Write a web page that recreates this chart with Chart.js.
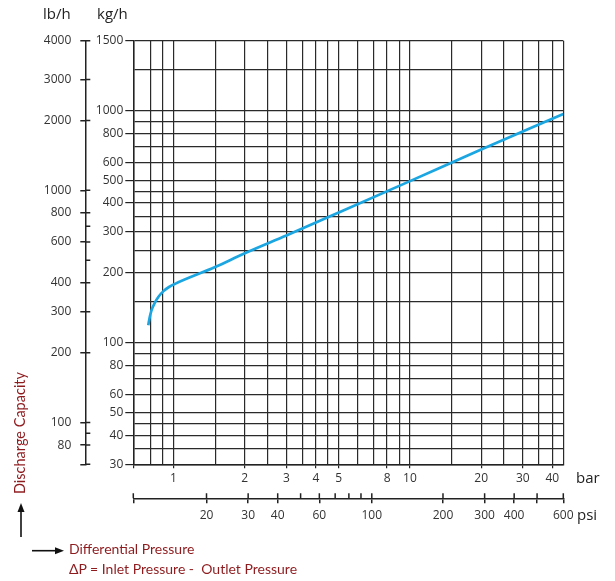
<!DOCTYPE html>
<html>
<head>
<meta charset="utf-8">
<script src="https://cdn.jsdelivr.net/npm/chart.js@4.4.0/dist/chart.umd.min.js"></script>
<style>
  body { margin: 0; background: #fff; }
  #wrap { position: relative; width: 615px; height: 581px; font-family: "Open Sans", sans-serif; color: #222; }
  #wrap canvas, #wrap svg { position: absolute; left: 0; top: 0; }
  .lbl { position: absolute; white-space: nowrap; line-height: 1; }
  .red { color: #8e1b1e; font-family: Lato, "Open Sans", sans-serif; }
</style>
</head>
<body>
<div id="wrap">
  <canvas id="chart" width="615" height="581"></canvas>
  <svg width="615" height="581">
    <line x1="21" y1="537" x2="21" y2="510" stroke="#111" stroke-width="1.6"/>
    <polygon points="21,503 17.5,512 24.5,512" fill="#111"/>
    <line x1="32" y1="550.7" x2="57" y2="550.7" stroke="#111" stroke-width="1.6"/>
    <polygon points="64,550.7 55,547.2 55,554.2" fill="#111"/>
  </svg>
  <div class="lbl" style="left:43px;top:6px;font-size:15px">lb/h</div>
  <div class="lbl" style="left:97px;top:6px;font-size:15px">kg/h</div>
  <div class="lbl" style="left:576px;top:470px;font-size:15px">bar</div>
  <div class="lbl" style="left:577px;top:507px;font-size:15px">psi</div>
  <div class="lbl red" style="left:20px;top:433px;font-size:14.5px;transform:translate(-50%,-50%) rotate(-90deg)">Discharge Capacity</div>
  <div class="lbl red" style="left:69px;top:542px;font-size:14px">Differential Pressure</div>
  <div class="lbl red" style="left:69px;top:562px;font-size:14px">ΔP = Inlet Pressure -&nbsp; Outlet Pressure</div>
</div>
<script>
// curve: differential pressure (bar) vs discharge (kg/h)
const barValues = [0.782, 0.792, 0.807, 0.831, 0.864, 0.907, 0.957, 1.015, 1.5, 2, 3, 5, 10, 20, 44.5];
const kgValues  = [119, 128, 138, 148, 158, 167, 174, 179.5, 212, 243, 290, 364, 497, 680, 967];

const barMin = 0.676, barMax = 44.5;
const kgMin = 30, kgMax = 2000;
const barGrid = [0.8, 0.9, 1, 1.5, 2, 2.5, 3, 3.5, 4, 4.5, 5, 6, 7, 8, 9, 10, 15, 20, 25, 30, 35, 40];
const barLabels = [1, 2, 3, 4, 5, 8, 10, 20, 30, 40];
const kgGrid = [30, 35, 40, 45, 50, 60, 70, 80, 90, 100, 150, 200, 250, 300, 350, 400, 450, 500, 600, 700, 800, 900, 1000, 1500];
const kgLabels = [30, 40, 50, 60, 80, 100, 200, 300, 400, 500, 600, 800, 1000];
const kgTopLabel = '1500';
const lbMajor = [80, 100, 200, 300, 400, 600, 800, 1000, 2000, 3000];
const lbMinor = [90, 500, 700];
const lbTopLabel = '4000';
const psiMajor = [20, 30, 40, 60, 100, 200, 300, 400];
const psiMinor = [50, 70, 80, 90];
const psiPlain = [500];
const psiEndLabel = '600';

const KG_TO_LB = 2.20462;
const BAR_TO_PSI = 14.5038;
const lbMin = kgMin * KG_TO_LB, lbMax = kgMax * KG_TO_LB;
const psiMin = barMin * BAR_TO_PSI, psiMax = barMax * BAR_TO_PSI;

const INK = '#222';
const GRID = '#2a2a2a';
const NONE = 'rgba(0,0,0,0)';

const setTicks = (vals) => (s) => { s.ticks = vals.slice().sort((a, b) => a - b).map(v => ({ value: v })); };

// second side of the tick marks on the lb/h and psi axes
const stubs = {
  id: 'stubs',
  afterDraw(chart) {
    const ctx = chart.ctx;
    const lb = chart.scales.lb, psi = chart.scales.psi;
    ctx.save();
    ctx.strokeStyle = INK;
    ctx.lineWidth = 1.5;
    ctx.beginPath();
    lb.ticks.forEach(t => {
      const y = lb.getPixelForValue(t.value);
      ctx.moveTo(lb.right, y);
      ctx.lineTo(lb.right + 5, y);
    });
    psi.ticks.forEach(t => {
      const x = psi.getPixelForValue(t.value);
      ctx.moveTo(x, psi.top);
      ctx.lineTo(x, psi.top - 5);
    });
    ctx.stroke();
    ctx.restore();
  }
};

Chart.defaults.font.family = "'Open Sans', sans-serif";
Chart.defaults.font.size = 12;
Chart.defaults.color = '#333';

new Chart(document.getElementById('chart').getContext('2d'), {
  type: 'line',
  data: {
    datasets: [{
      data: barValues.map((b, i) => ({ x: b, y: kgValues[i] })),
      borderColor: '#1ba6e2',
      borderWidth: 2.7,
      pointRadius: 0,
      cubicInterpolationMode: 'monotone',
      fill: false,
    }]
  },
  options: {
    responsive: false,
    animation: false,
    layout: { padding: { left: 25.3, right: 51.7, top: 40.7, bottom: 52.7 } },
    plugins: { legend: { display: false }, tooltip: { enabled: false } },
    scales: {
      x: {
        type: 'logarithmic', position: 'bottom', weight: 0,
        min: barMin, max: barMax,
        afterBuildTicks: setTicks([barMin, ...barGrid, barMax]),
        afterFit: (s) => { s.height = 34; },
        ticks: {
          autoSkip: false, maxRotation: 0, padding: 3,
          callback: (v) => barLabels.includes(v) ? String(v) : '',
        },
        grid: {
          color: GRID, lineWidth: 1.2, tickLength: 4,
          tickColor: (c) => (barLabels.includes(c.tick.value) || c.tick.value === barMin) ? INK : NONE,
        },
        border: { color: INK, width: 1.5 },
      },
      psi: {
        type: 'logarithmic', position: 'bottom', weight: 1,
        min: psiMin, max: psiMax,
        afterBuildTicks: setTicks([psiMin, ...psiMajor, ...psiMinor, ...psiPlain, psiMax]),
        afterFit: (s) => { s.height = 30; },
        ticks: {
          autoSkip: false, maxRotation: 0, padding: 5,
          callback: (v) => v === psiMax ? psiEndLabel : (psiMajor.includes(v) ? String(v) : ''),
        },
        grid: {
          drawOnChartArea: false, tickLength: 5, lineWidth: 1.5,
          tickColor: (c) => psiMinor.includes(c.tick.value) ? NONE : INK,
        },
        border: { color: INK, width: 1.5 },
      },
      y: {
        type: 'logarithmic', position: 'left', weight: 0,
        min: kgMin, max: kgMax,
        afterBuildTicks: setTicks([...kgGrid, kgMax]),
        afterFit: (s) => { s.width = 48; },
        ticks: {
          autoSkip: false, padding: 2,
          callback: (v) => v === kgMax ? kgTopLabel : (kgLabels.includes(v) ? String(v) : ''),
        },
        grid: {
          color: GRID, lineWidth: 1.2, tickLength: 8,
          tickColor: (c) => (kgLabels.includes(c.tick.value) || c.tick.value === kgMax) ? INK : NONE,
        },
        border: { color: INK, width: 1.5 },
      },
      lb: {
        type: 'logarithmic', position: 'left', weight: 1,
        min: lbMin, max: lbMax,
        afterBuildTicks: setTicks([lbMin, ...lbMajor, ...lbMinor, lbMax]),
        afterFit: (s) => { s.width = 60; },
        ticks: {
          autoSkip: false, padding: 9,
          callback: (v) => v === lbMax ? lbTopLabel : (lbMajor.includes(v) ? String(v) : ''),
        },
        grid: {
          drawOnChartArea: false, tickLength: 5, lineWidth: 1.5,
          tickColor: (c) => lbMinor.includes(c.tick.value) ? NONE : INK,
        },
        border: { color: INK, width: 1.5 },
      },
    }
  },
  plugins: [stubs]
});
</script>
</body>
</html>
